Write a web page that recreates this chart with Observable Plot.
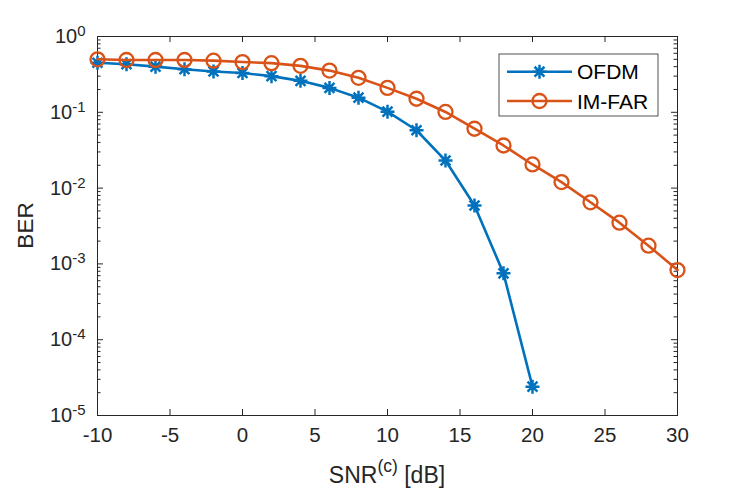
<!DOCTYPE html>
<html>
<head>
<meta charset="utf-8">
<script src="https://cdn.jsdelivr.net/npm/d3@7"></script>
<script src="https://cdn.jsdelivr.net/npm/@observablehq/plot@0.6"></script>
<style>
  html, body { margin: 0; padding: 0; background: #fff; }
  #chart svg { font-family: "Liberation Sans", Arial, sans-serif; }
</style>
</head>
<body>
<div id="chart"></div>
<script>
// ---- data ----
const snrOFDM = [-10, -8, -6, -4, -2, 0, 2, 4, 6, 8, 10, 12, 14, 16, 18, 20];
const berOFDM = [0.45, 0.43, 0.40, 0.37, 0.345, 0.33, 0.30, 0.26, 0.21, 0.156, 0.102, 0.058, 0.0231, 0.0059, 0.00075, 0.000024];
const snrIMFAR = [-10, -8, -6, -4, -2, 0, 2, 4, 6, 8, 10, 12, 14, 16, 18, 20, 22, 24, 26, 28, 30];
const berIMFAR = [0.50, 0.49, 0.49, 0.49, 0.48, 0.46, 0.445, 0.41, 0.355, 0.285, 0.21, 0.151, 0.101, 0.0607, 0.0365, 0.0205, 0.012, 0.0065, 0.0035, 0.00174, 0.00083];
const seriesNames = ["OFDM", "IM-FAR"];
const xTicks = [-10, -5, 0, 5, 10, 15, 20, 25, 30];
const yTicks = [1e-5, 1e-4, 1e-3, 1e-2, 1e-1, 1];
const xLabel = ["SNR", "(c)", " [dB]"];
const yLabel = "BER";

// ---- layout ----
const W = 747, H = 492;
const mL = 97, mR = 70, mT = 36, mB = 77;
const pw = W - mL - mR, ph = H - mT - mB;
const axisColor = "#262626";
const cBlue = "#0072BD", cRed = "#D95319";
const tickFont = 20.5;

const asterisk = {
  draw(ctx, size) {
    const r = Math.sqrt(size / Math.PI);
    const d = r * Math.SQRT1_2;
    ctx.moveTo(-r, 0); ctx.lineTo(r, 0);
    ctx.moveTo(0, -r); ctx.lineTo(0, r);
    ctx.moveTo(-d, -d); ctx.lineTo(d, d);
    ctx.moveTo(-d, d); ctx.lineTo(d, -d);
  }
};

const ofdm = snrOFDM.map((x, i) => ({x, y: berOFDM[i]}));
const imfar = snrIMFAR.map((x, i) => ({x, y: berIMFAR[i]}));
const minorY = d3.scaleLog().domain([1e-5, 1]).ticks().filter(v => !yTicks.some(t => Math.abs(Math.log10(v) - Math.log10(t)) < 1e-9));

const plot = Plot.plot({
  width: W, height: H,
  marginLeft: mL, marginRight: mR, marginTop: mT, marginBottom: mB,
  style: {fontFamily: "Liberation Sans, Arial, sans-serif", background: "#fff", color: axisColor, fontSize: tickFont + "px"},
  x: {domain: [-10, 30], label: null},
  y: {type: "log", domain: [1e-5, 1], label: null},
  marks: [
    Plot.tickX(xTicks, {x: d => d, insetTop: ph - 6, stroke: axisColor, strokeWidth: 1}),
    Plot.tickX(xTicks, {x: d => d, insetBottom: ph - 6, stroke: axisColor, strokeWidth: 1}),
    Plot.tickY(yTicks, {y: d => d, insetRight: pw - 6, stroke: axisColor, strokeWidth: 1}),
    Plot.tickY(yTicks, {y: d => d, insetLeft: pw - 6, stroke: axisColor, strokeWidth: 1}),
    Plot.tickY(minorY, {y: d => d, insetRight: pw - 3.5, stroke: axisColor, strokeWidth: 1}),
    Plot.tickY(minorY, {y: d => d, insetLeft: pw - 3.5, stroke: axisColor, strokeWidth: 1}),
    Plot.axisX({ticks: xTicks, tickSize: 0, tickPadding: 12, fontSize: tickFont, tickFormat: d => String(d), label: null}),
    Plot.axisY({ticks: yTicks, tickSize: 0, tickPadding: 12, fontSize: tickFont, tickFormat: d => "10^" + Math.round(Math.log10(d)), label: null}),
    Plot.frame({stroke: axisColor, strokeWidth: 1}),
    Plot.line(ofdm, {x: "x", y: "y", stroke: cBlue, strokeWidth: 2.6}),
    Plot.dot(ofdm, {x: "x", y: "y", symbol: asterisk, r: 7, stroke: cBlue, strokeWidth: 2.5, fill: "none"}),
    Plot.line(imfar, {x: "x", y: "y", stroke: cRed, strokeWidth: 2.6}),
    Plot.dot(imfar, {x: "x", y: "y", symbol: "circle", r: 7, stroke: cRed, strokeWidth: 2.3, fill: "none"})
  ]
});
document.getElementById("chart").appendChild(plot);

const svg = d3.select(plot);
const NS = "http://www.w3.org/2000/svg";

plot.querySelectorAll('[aria-label="y-axis tick label"] text').forEach(t => {
  const s = t.textContent;
  const exp = s.split("^")[1];
  t.textContent = "10";
  const sup = document.createElementNS(NS, "tspan");
  sup.setAttribute("dy", "-7");
  sup.style.fontSize = "15px";
  sup.textContent = exp;
  t.appendChild(sup);
  t.style.fontSize = "20px";
  t.setAttribute("fill", axisColor);
});
plot.querySelectorAll('[aria-label="x-axis tick label"] text').forEach(t => {
  t.style.fontSize = tickFont + "px";
  t.setAttribute("fill", axisColor);
});

// x label
const xl = svg.append("text")
  .attr("x", mL + pw / 2).attr("y", 483)
  .attr("text-anchor", "middle")
  .style("font-size", "23px").attr("fill", axisColor);
xl.append("tspan").text(xLabel[0]);
xl.append("tspan").attr("dy", -11).style("font-size", "17.5px").text(xLabel[1]);
xl.append("tspan").attr("dy", 11).text(xLabel[2]);

// y label
svg.append("text")
  .attr("transform", `translate(33,${mT + ph / 2}) rotate(-90)`)
  .attr("text-anchor", "middle")
  .style("font-size", "22.5px").attr("fill", axisColor)
  .text(yLabel);

// legend
const lg = svg.append("g");
lg.append("rect").attr("x", 499).attr("y", 54).attr("width", 159).attr("height", 62)
  .attr("fill", "#fff").attr("stroke", axisColor).attr("stroke-width", 0.8);
const entries = [
  {name: seriesNames[0], color: cBlue, sym: d3.symbol(asterisk, Math.PI * 7 * 7), sw: 2.5, y: 71.7},
  {name: seriesNames[1], color: cRed, sym: d3.symbol(d3.symbolCircle, Math.PI * 7 * 7), sw: 2.3, y: 101}
];
entries.forEach(e => {
  lg.append("line").attr("x1", 507).attr("x2", 572).attr("y1", e.y).attr("y2", e.y)
    .attr("stroke", e.color).attr("stroke-width", 2.6);
  lg.append("path").attr("d", e.sym()).attr("transform", `translate(539.5,${e.y})`)
    .attr("fill", "none").attr("stroke", e.color).attr("stroke-width", e.sw);
  lg.append("text").attr("x", 577).attr("y", e.y).attr("dy", "0.36em")
    .attr("text-anchor", "start")
    .style("font-size", "21px").attr("fill", "#000").text(e.name);
});
</script>
</body>
</html>
